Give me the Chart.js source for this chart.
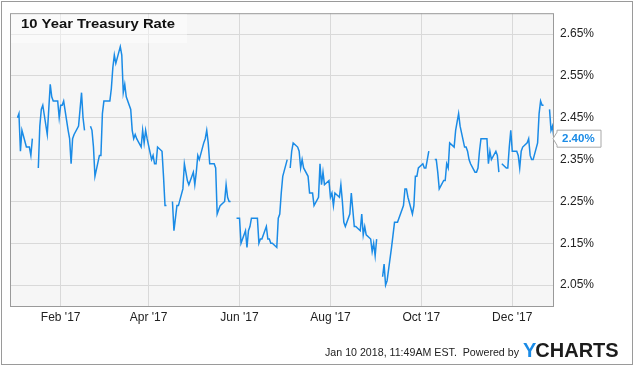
<!DOCTYPE html>
<html><head><meta charset="utf-8">
<script src="https://cdn.jsdelivr.net/npm/chart.js@4.4.1/dist/chart.umd.min.js"></script>
<style>html,body{margin:0;padding:0;background:#fff;overflow:hidden}</style>
</head><body><canvas id="c" width="635" height="366"></canvas>
<script>
// ---- data ----
const chartTitle = "10 Year Treasury Rate";
const footerText = "Jan 10 2018, 11:49AM EST.  Powered by";
const yTickValues = [2.05, 2.15, 2.25, 2.35, 2.45, 2.55, 2.65];
const monthTickDays = [31, 90, 151, 212, 273, 334]; // days since Jan 1 2017
const monthTickLabels = ["Feb '17", "Apr '17", "Jun '17", "Aug '17", "Oct '17", "Dec '17"];
const rangeStartDay = -3;   // Dec 29 2016
const rangeEndDay = 362;    // Dec 29 2017
const lastValueLabel = "2.40%";
// one value per weekday of each month of 2017, null = market holiday
const jan = [null,2.45,2.46,2.37,2.42, 2.38,2.38,2.38,2.36,2.40, null,2.33,2.43,2.47,2.48, 2.41,2.47,2.53,2.50,2.49, 2.49,2.45];
const feb = [2.48,2.48,2.49, 2.42,2.40,2.34,2.40,2.41, 2.43,2.47,2.51,2.45,2.42, null,2.43,2.42,2.38,2.31, 2.36,2.36];
const mar = [2.46,2.49,2.49, 2.49,2.52,2.57,2.60,2.58, 2.62,2.60,2.51,2.53,2.50, 2.47,2.42,2.40,2.41,2.40, 2.38,2.42,2.39,2.42,2.40];
const apr = [2.35,2.36,2.34,2.34,2.38, 2.37,2.31,2.24,2.24,null, 2.25,2.18,2.21,2.24,2.24, 2.28,2.34,2.32,2.30,2.29];
const may = [2.32,2.29,2.32,2.36,2.35, 2.39,2.40,2.42,2.39,2.34, 2.34,2.33,2.22,2.23,2.24, 2.25,2.29,2.26,2.25,2.25, null,2.21,2.21];
const jun = [2.21,2.15, 2.18,2.14,2.18,2.19,2.21, 2.21,2.21,2.15,2.16,2.16, 2.19,2.16,2.16,2.15,2.15, 2.14,2.21,2.22,2.27,2.31];
const jul = [2.35,null,2.33,2.37,2.39, 2.38,2.37,2.33,2.35,2.33, 2.31,2.27,2.27,2.27,2.24, 2.26,2.34,2.29,2.32,2.29, 2.30];
const aug = [2.26,2.27,2.24,2.27, 2.26,2.29,2.25,2.20,2.19, 2.22,2.27,2.23,2.19,2.19, 2.18,2.22,2.17,2.19,2.17, 2.16,2.13,2.15,2.12];
const sep = [2.16, null,2.07,2.10,2.05,2.06, 2.14,2.17,2.20,2.20,2.20, 2.23,2.24,2.28,2.28,2.26, 2.22,2.24,2.31,2.31,2.33];
const oct = [2.34,2.33,2.33,2.35,2.37, null,2.35,2.35,2.32,2.28, 2.30,2.30,2.34,2.33,2.39, 2.38,2.42,2.44,2.46,2.43, 2.38,2.38];
const nov = [2.37,2.35,2.34, 2.32,2.32,2.33,2.37,2.40, 2.40,2.40,2.34,2.37,2.35, 2.37,2.36,2.32,null,2.34, 2.33,2.33,2.38,2.42];
const dec = [2.37, 2.37,2.36,2.33,2.37,2.38, 2.39,2.40,2.36,2.35,2.35, 2.39,2.46,2.49,2.48,2.48, null,2.47,2.42,2.43,2.40];

// ---- build points: map each month's values onto its weekdays ----
const months = [jan,feb,mar,apr,may,jun,jul,aug,sep,oct,nov,dec];
const points = [];
const t0 = Date.UTC(2017,0,1);
months.forEach((vals, m) => {
  let k = 0;
  for (let d = 1; d <= 31; d++) {
    const dt = new Date(Date.UTC(2017, m, d));
    if (dt.getUTCMonth() !== m) break;
    const wd = dt.getUTCDay();
    if (wd === 0 || wd === 6) continue;
    if (k < vals.length) points.push({x: (dt - t0) / 864e5, y: vals[k]});
    k++;
  }
});

const FONT = "'Liberation Sans', Arial, Helvetica, sans-serif";
const LINE = '#1a8be6';

const decor = {
  id: 'decor',
  beforeDraw(chart) {
    const {ctx, chartArea: a} = chart;
    ctx.save();
    ctx.fillStyle = '#ffffff';
    ctx.fillRect(0, 0, chart.width, chart.height);
    ctx.fillStyle = '#f6f6f6';
    ctx.fillRect(a.left, a.top, a.right - a.left, a.bottom - a.top);
    ctx.restore();
  },
  afterDraw(chart) {
    const {ctx, chartArea: a} = chart;
    ctx.save();
    // plot border
    ctx.strokeStyle = '#9a9a9a'; ctx.lineWidth = 1;
    ctx.strokeRect(a.left + 0.5, a.top + 0.5, a.right - a.left - 1, a.bottom - a.top);
    // title box + title
    ctx.fillStyle = 'rgba(255,255,255,0.45)';
    ctx.fillRect(a.left + 1, a.top + 1, 176, 29);
    ctx.fillStyle = '#111';
    ctx.font = 'bold 13.5px ' + FONT;
    ctx.textBaseline = 'alphabetic'; ctx.textAlign = 'left';
    const tw = ctx.measureText(chartTitle).width;
    ctx.save();
    ctx.translate(21, 28);
    ctx.scale(154 / tw, 1);
    ctx.fillText(chartTitle, 0, 0);
    ctx.restore();
    // last-value callout
    const last = points[points.length - 1];
    const px = chart.scales.x.getPixelForValue(last.x);
    const py = chart.scales.y.getPixelForValue(last.y);
    const bx = px + 3, bw = 44, bh = 17;
    ctx.beginPath();
    ctx.moveTo(bx, py - bh / 2);
    ctx.lineTo(bx + bw, py - bh / 2);
    ctx.lineTo(bx + bw, py + bh / 2);
    ctx.lineTo(bx, py + bh / 2);
    ctx.lineTo(bx, py + 6.5);
    ctx.lineTo(px - 1, py);
    ctx.lineTo(bx, py - 6.5);
    ctx.closePath();
    ctx.fillStyle = '#fff'; ctx.fill();
    ctx.strokeStyle = '#a8a8a8'; ctx.lineWidth = 1; ctx.stroke();
    ctx.fillStyle = LINE;
    ctx.font = 'bold 11.5px ' + FONT;
    ctx.textBaseline = 'middle';
    ctx.fillText(lastValueLabel, bx + 5, py + 0.5);
    // footer
    ctx.fillStyle = '#222';
    ctx.font = '11px ' + FONT;
    ctx.textBaseline = 'alphabetic';
    ctx.fillText(footerText, 325, 356, 194);
    ctx.font = 'bold 20px ' + FONT;
    ctx.fillStyle = '#1a8be6';
    ctx.fillText('Y', 523, 357);
    const yw = ctx.measureText('Y').width;
    ctx.fillStyle = '#1c1c1c';
    ctx.fillText('CHARTS', 523 + yw - 1, 357, 100 - yw + 1);
    // outer frame
    ctx.strokeStyle = '#9a9a9a'; ctx.lineWidth = 1;
    ctx.strokeRect(1.5, 1.5, 631, 363);
    ctx.restore();
  }
};

new Chart(document.getElementById('c'), {
  type: 'line',
  data: { datasets: [{
    data: points,
    borderColor: LINE,
    borderWidth: 1.5,
    pointRadius: 0,
    tension: 0,
    spanGaps: false
  }]},
  options: {
    responsive: false,
    animation: false,
    events: [],
    layout: { padding: { left: 10, top: 10, right: 0, bottom: 0 } },
    plugins: { legend: { display: false }, tooltip: { enabled: false }, title: { display: false } },
    scales: {
      x: {
        type: 'linear',
        min: rangeStartDay, max: rangeEndDay,
        afterBuildTicks: s => { s.ticks = monthTickDays.map(v => ({value: v})); },
        afterFit: s => { s.height = 60; },
        ticks: {
          autoSkip: false, maxRotation: 0, padding: 4,
          color: '#222', font: { family: FONT, size: 12 },
          callback: (v, i) => monthTickLabels[i]
        },
        grid: { color: '#d9d9d9', drawTicks: false, lineWidth: 1 },
        border: { display: false }
      },
      y: {
        position: 'right',
        min: 2.0, max: 2.70,
        afterBuildTicks: s => { s.ticks = yTickValues.map(v => ({value: v})); },
        afterFit: s => { s.width = 81; },
        ticks: {
          padding: 6,
          color: '#222', font: { family: FONT, size: 12 },
          callback: v => v.toFixed(2) + '%'
        },
        grid: { color: '#d9d9d9', drawTicks: false, lineWidth: 1 },
        border: { display: false }
      }
    }
  },
  plugins: [decor]
});
</script>
</body></html>
